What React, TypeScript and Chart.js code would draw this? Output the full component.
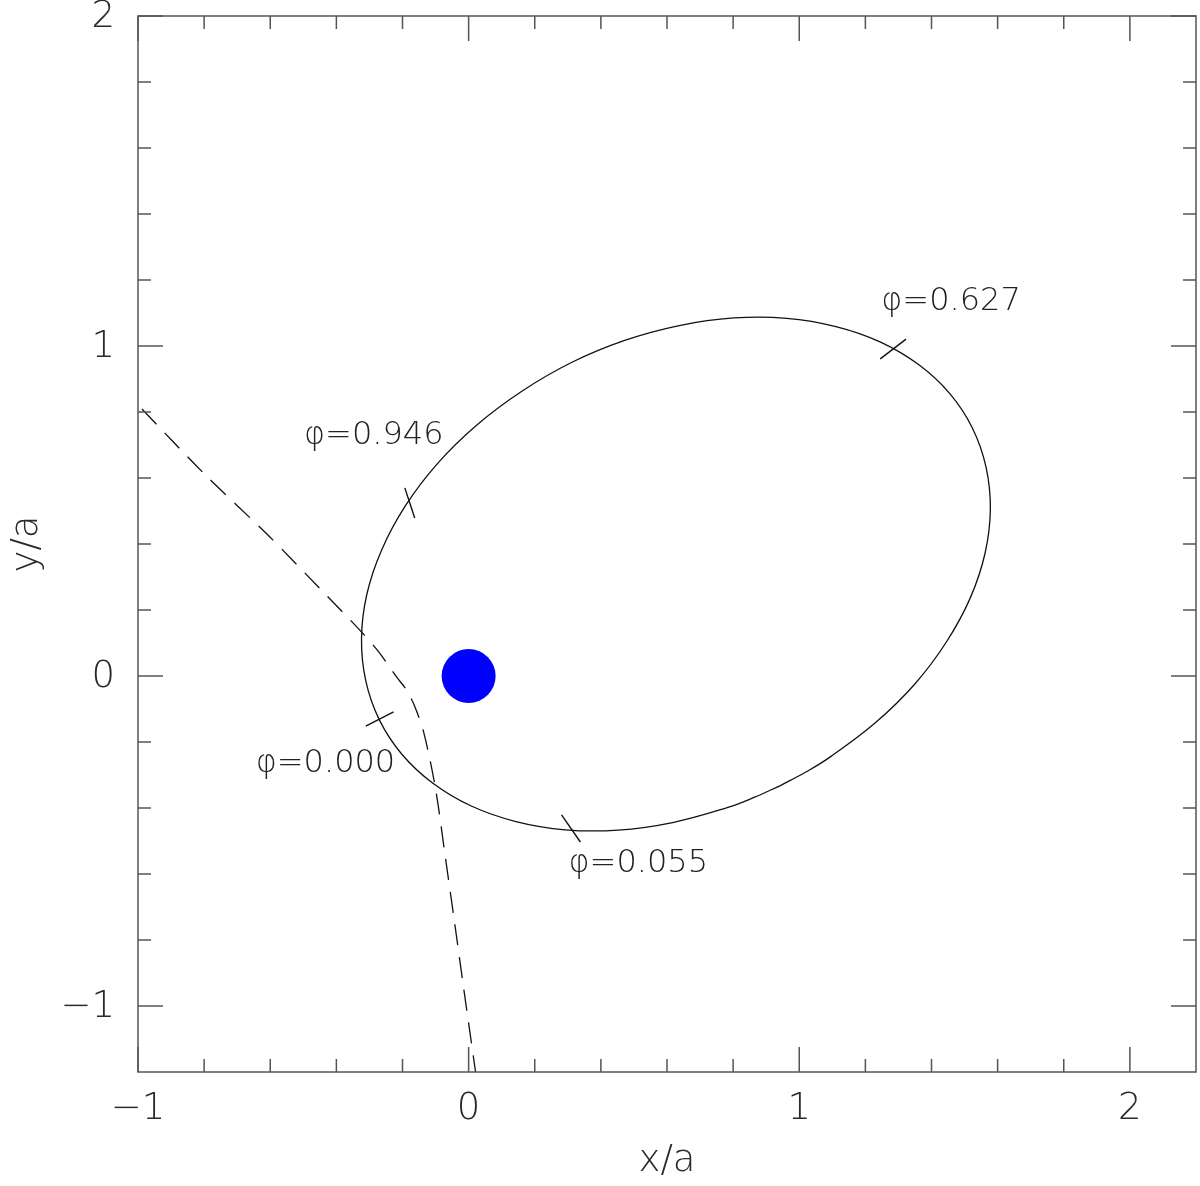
import React, { useEffect, useRef } from "react";
import { Chart, registerables } from "chart.js";

Chart.register(...registerables);

// Orbit (x/a, y/a), starting near the bottom-right flank
const orbitX = [0.943, 1.020, 1.094, 1.230, 1.349, 1.445, 1.517, 1.562, 1.578, 1.565, 1.524, 1.456, 1.362, 1.246, 1.111, 0.962, 0.802, 0.637, 0.472, 0.311, 0.161, 0.024, -0.095, -0.191, -0.263, -0.308, -0.324, -0.311, -0.270, -0.202, -0.108, 0.008, 0.143, 0.292, 0.452, 0.617, 0.782, 0.863, 0.943];
const orbitY = [-0.332, -0.291, -0.245, -0.142, -0.025, 0.103, 0.236, 0.372, 0.505, 0.633, 0.751, 0.855, 0.943, 1.012, 1.059, 1.084, 1.085, 1.062, 1.017, 0.950, 0.863, 0.760, 0.643, 0.516, 0.382, 0.247, 0.113, -0.015, -0.133, -0.237, -0.325, -0.394, -0.441, -0.466, -0.467, -0.444, -0.399, -0.368, -0.332];

// Dashed path
const pathX = [-0.988, -0.800, -0.604, -0.450, -0.332, -0.272, -0.218, -0.190, -0.166, -0.136, -0.100, -0.071, -0.044, -0.016, 0.021];
const pathY = [0.809, 0.613, 0.424, 0.265, 0.142, 0.073, -0.003, -0.039, -0.085, -0.170, -0.342, -0.545, -0.736, -0.939, -1.2];

// Central star
const starX = [0];
const starY = [0];

// Phase markers
const phaseNames = ["0.627", "0.946", "0.000", "0.055"];
const phaseTickStartX = [1.245, -0.193, -0.311, 0.281];
const phaseTickStartY = [0.961, 0.570, -0.152, -0.421];
const phaseTickEndX = [1.323, -0.163, -0.227, 0.338];
const phaseTickEndY = [1.021, 0.479, -0.109, -0.503];
const phaseLabelX = [1.248, -0.498, -0.644, 0.302];
const phaseLabelY = [1.133, 0.727, -0.267, -0.570];

// Axes
const xMin = -1, xMax = 2.2, yMin = -1.2, yMax = 2;
const xMajor = [-1, 0, 1, 2];
const xMajorLabels = ["\u22121", "0", "1", "2"];
const yMajor = [-1, 0, 1, 2];
const yMajorLabels = ["\u22121", "0", "1", "2"];
const xMinor = [-0.8, -0.6, -0.4, -0.2, 0.2, 0.4, 0.6, 0.8, 1.2, 1.4, 1.6, 1.8];
const yMinor = [-0.8, -0.6, -0.4, -0.2, 0.2, 0.4, 0.6, 0.8, 1.2, 1.4, 1.6, 1.8];
const xTitle = "x/a";
const yTitle = "y/a";

const FONT = '"DejaVu Sans"';
const TEXT_COLOR = "#2a2a2a";
const FRAME_COLOR = "#555";

const framePlugin = {
  id: "frameTicks",
  afterDraw(chart: any) {
    const { ctx, chartArea } = chart;
    const { left, right, top, bottom } = chartArea;
    const xs = chart.scales.x;
    const ys = chart.scales.y;
    ctx.save();
    ctx.strokeStyle = FRAME_COLOR;
    ctx.lineWidth = 1.5;
    ctx.strokeRect(left, top, right - left, bottom - top);
    const major = 25, minor = 13;
    ctx.beginPath();
    const vt = (v: number, len: number) => {
      const px = xs.getPixelForValue(v);
      ctx.moveTo(px, bottom); ctx.lineTo(px, bottom - len);
      ctx.moveTo(px, top); ctx.lineTo(px, top + len);
    };
    const ht = (v: number, len: number) => {
      const py = ys.getPixelForValue(v);
      ctx.moveTo(left, py); ctx.lineTo(left + len, py);
      ctx.moveTo(right, py); ctx.lineTo(right - len, py);
    };
    xMajor.forEach((v) => vt(v, major));
    xMinor.forEach((v) => vt(v, minor));
    yMajor.forEach((v) => ht(v, major));
    yMinor.forEach((v) => ht(v, minor));
    ctx.stroke();

    ctx.fillStyle = TEXT_COLOR;
    ctx.font = `200 37px ${FONT}`;
    ctx.textAlign = "center";
    ctx.textBaseline = "middle";
    xMajor.forEach((v, i) => {
      ctx.fillText(xMajorLabels[i], xs.getPixelForValue(v), bottom + 37);
    });
    ctx.textAlign = "right";
    yMajor.forEach((v, i) => {
      ctx.fillText(yMajorLabels[i], left - 23, ys.getPixelForValue(v) + 1);
    });

    // axis titles
    ctx.textAlign = "center";
    ctx.fillText(xTitle, (left + right) / 2, bottom + 89);
    ctx.save();
    ctx.translate(27, (top + bottom) / 2);
    ctx.rotate(-Math.PI / 2);
    ctx.fillText(yTitle, 0, 0);
    ctx.restore();

    // phase labels
    ctx.font = `200 32px ${FONT}`;
    ctx.textAlign = "left";
    ctx.fillStyle = "#222";
    phaseNames.forEach((n, i) => {
      ctx.fillText("\u03c6=" + n, xs.getPixelForValue(phaseLabelX[i]), ys.getPixelForValue(phaseLabelY[i]));
    });
    ctx.restore();
  },
};

export default function App() {
  const ref = useRef<HTMLCanvasElement | null>(null);
  useEffect(() => {
    if (!ref.current) return;
    const pts = (xs: number[], ys: number[]) => xs.map((x, i) => ({ x, y: ys[i] }));
    const tickSets = phaseNames.map((n, i) => ({
      label: "tick " + n,
      data: [
        { x: phaseTickStartX[i], y: phaseTickStartY[i] },
        { x: phaseTickEndX[i], y: phaseTickEndY[i] },
      ],
      showLine: true,
      borderColor: "#111",
      borderWidth: 1.4,
      pointRadius: 0,
      tension: 0,
    }));
    const chart = new Chart(ref.current, {
      type: "scatter",
      data: {
        datasets: [
          {
            label: "orbit",
            data: pts(orbitX, orbitY),
            showLine: true,
            borderColor: "#111",
            borderWidth: 1.3,
            pointRadius: 0,
            tension: 0.4,
          },
          {
            label: "path",
            data: pts(pathX, pathY),
            showLine: true,
            borderColor: "#111",
            borderWidth: 1.3,
            borderDash: [21, 12],
            pointRadius: 0,
            tension: 0.3,
          },
          ...tickSets,
          {
            label: "star",
            data: pts(starX, starY),
            pointRadius: 27,
            pointBackgroundColor: "#0000ff",
            pointBorderColor: "#0000ff",
            pointBorderWidth: 0,
          },
        ] as any,
      },
      options: {
        animation: false,
        responsive: false,
        maintainAspectRatio: false,
        layout: { autoPadding: false, padding: { left: 138, top: 16, right: 4, bottom: 114 } },
        plugins: { legend: { display: false }, tooltip: { enabled: false } },
        scales: {
          x: { type: "linear", min: xMin, max: xMax, display: false },
          y: { type: "linear", min: yMin, max: yMax, display: false },
        },
      },
      plugins: [framePlugin],
    });
    return () => chart.destroy();
  }, []);
  return (
    <div style={{ position: "absolute", left: 0, top: 0, width: 1200, height: 1186, background: "#fff" }}>
      <canvas ref={ref} width={1200} height={1186} style={{ display: "block" }} />
    </div>
  );
}
